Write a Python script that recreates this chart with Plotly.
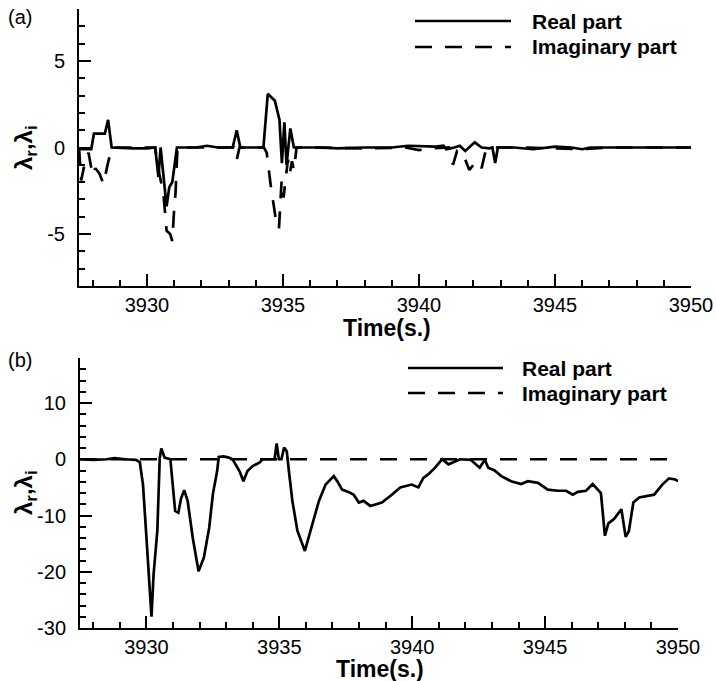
import plotly.graph_objects as go

W, H = 716, 681

# ---------------- Data: panel (a) ----------------
ta_real = [3927.5, 3927.7, 3927.95, 3928.05, 3928.45, 3928.57, 3928.7, 3929.5, 3930.0, 3930.3,
           3930.42, 3930.5, 3930.6, 3930.72, 3930.82, 3930.93, 3931.1, 3931.8, 3932.2, 3932.6,
           3933.15, 3933.3, 3933.43, 3934.28, 3934.44, 3934.7, 3934.87, 3934.96, 3935.05, 3935.13,
           3935.27, 3935.4, 3936.5, 3937.0, 3938.0, 3939.0, 3939.6, 3940.2, 3940.6, 3940.9,
           3941.0, 3941.3, 3941.5, 3941.7, 3942.05, 3942.3, 3942.6, 3942.7, 3942.8, 3942.9,
           3943.5, 3944.2, 3945.0, 3945.6, 3946.0, 3946.3, 3947.0, 3950.0]
a_real = [-0.1, -0.1, -0.1, 0.8, 0.8, 1.6, 0.0, -0.05, -0.05, 0.0,
          -1.7, 0.0, -1.7, -3.4, -2.3, -2.0, 0.0, 0.0, 0.1, 0.0,
          0.0, 1.0, 0.0, 0.0, 3.1, 2.7, 1.6, -0.9, 1.45, -1.0,
          1.1, 0.0, 0.0, -0.05, 0.0, 0.0, 0.1, 0.05, 0.05, 0.1,
          -0.1, 0.0, 0.1, -0.2, 0.3, 0.0, -0.05, 0.0, -0.9, 0.0,
          0.0, -0.1, 0.05, 0.0, -0.1, 0.0, 0.0, 0.0]

ta_imag = [3927.5, 3927.58, 3927.7, 3927.85, 3928.0, 3928.1, 3928.25, 3928.4, 3928.55, 3928.7,
           3930.3, 3930.45, 3930.6, 3930.72, 3930.85, 3930.93, 3931.0, 3931.05, 3931.12,
           3933.2, 3933.3, 3933.4,
           3934.3, 3934.4, 3934.55, 3934.65, 3934.75, 3934.85, 3934.9, 3934.95, 3935.02, 3935.1,
           3935.18, 3935.25, 3935.33, 3935.4, 3935.5,
           3936.0, 3938.0, 3939.5, 3940.0, 3940.5, 3941.1, 3941.25, 3941.4, 3941.6, 3941.85,
           3942.1, 3942.3, 3942.45, 3942.6, 3944.0, 3945.0, 3946.0, 3947.0, 3950.0]
a_imag = [0.0, -1.9, -1.0, -0.3, -1.6, -1.2, -1.5, -2.1, -1.0, 0.0,
          0.0, -1.5, -2.6, -4.8, -5.0, -5.4, -3.5, -2.6, 0.0,
          0.0, -0.7, 0.0,
          0.0, -0.3, -2.2, -3.4, -4.3, -4.7, -3.0, -1.9, -2.9, -1.8,
          -0.7, -1.5, -0.8, -1.3, 0.0,
          0.0, -0.05, 0.0, -0.15, -0.05, 0.0, -1.0, -0.2, -0.3, -1.3,
          -0.8, -1.2, -0.2, 0.0, 0.0, -0.05, -0.1, 0.0, 0.0]

# ---------------- Data: panel (b) ----------------
tb_real = [3927.5, 3928.0, 3928.5, 3928.8, 3929.2, 3929.6, 3929.75, 3929.87, 3930.0, 3930.1,
           3930.19, 3930.27, 3930.41, 3930.5, 3930.56, 3930.68, 3930.9, 3931.0, 3931.08, 3931.2,
           3931.3, 3931.42, 3931.55, 3931.74, 3931.96, 3932.16, 3932.36, 3932.5, 3932.66, 3932.72,
           3932.9, 3933.1, 3933.24, 3933.5, 3933.65, 3933.8, 3934.0, 3934.25, 3934.37, 3934.82,
           3934.9, 3934.98, 3935.08, 3935.18, 3935.28, 3935.36, 3935.49, 3935.68, 3935.8, 3935.96,
           3936.24, 3936.49, 3936.74, 3937.05, 3937.18, 3937.36, 3937.6, 3937.8, 3937.99, 3938.17,
           3938.42, 3938.86, 3939.23, 3939.55, 3939.98, 3940.23, 3940.42, 3940.6, 3940.86, 3941.13,
           3941.36, 3941.6, 3941.8, 3942.2, 3942.54, 3942.73, 3942.86, 3943.1, 3943.35, 3943.72,
           3944.1, 3944.35, 3944.73, 3945.1, 3945.48, 3945.79, 3946.04, 3946.23, 3946.54, 3946.79,
           3947.1, 3947.25, 3947.38, 3947.6, 3947.87, 3948.03, 3948.15, 3948.32, 3948.54, 3949.1,
           3949.41, 3949.66, 3949.9, 3950.0]
b_real = [0.0, -0.1, 0.0, 0.2, 0.0, -0.1, -0.5, -4.5, -13.9, -22.0,
          -28.0, -20.4, -12.7, 0.2, 1.9, 0.3, 0.0, -5.1, -9.2, -9.5,
          -7.0, -5.5, -7.4, -13.9, -19.9, -17.5, -12.2, -6.2, -2.1, 0.4,
          0.5, 0.3, 0.0, -2.1, -3.9, -2.1, -1.2, -0.6, 0.0, 0.0,
          2.8, 0.0, 0.0, 2.1, 1.4, -2.1, -7.4, -12.7, -14.2, -16.3,
          -11.6, -7.4, -4.5, -3.0, -3.9, -5.4, -5.8, -6.3, -7.7, -7.4,
          -8.3, -7.7, -6.3, -5.0, -4.5, -5.0, -3.3, -2.7, -1.5, 0.0,
          -0.9, -0.4, 0.0, -0.1, -1.5, -0.1, -1.5, -2.0, -3.0, -3.9,
          -4.4, -3.9, -4.2, -5.4, -5.6, -5.6, -6.3, -5.8, -5.6, -4.4,
          -6.0, -13.6, -11.4, -10.6, -8.9, -13.8, -12.8, -7.7, -6.8, -6.3,
          -4.5, -3.4, -3.6, -3.9]

tb_imag = [3927.5, 3950.0]
b_imag = [0.0, 0.0]

# tick labels
x_ticks = [3930, 3935, 3940, 3945, 3950]
x_ticktext = ["3930", "3935", "3940", "3945", "3950"]
ya_ticks = [-5, 0, 5]
ya_ticktext = ["-5", "0", "5"]
yb_ticks = [-30, -20, -10, 0, 10]
yb_ticktext = ["-30", "-20", "-10", "0", "10"]

legend_labels = ["Real part", "Imaginary part"]

FONT = "Liberation Sans, Arial, Helvetica, sans-serif"
DASH = "17px,13px"
LW = 2.7

fig = go.Figure()
fig.add_trace(go.Scatter(x=ta_real, y=a_real, mode="lines", name=legend_labels[0],
                         line=dict(color="black", width=LW), xaxis="x", yaxis="y"))
fig.add_trace(go.Scatter(x=ta_imag, y=a_imag, mode="lines", name=legend_labels[1],
                         line=dict(color="black", width=LW, dash=DASH), xaxis="x", yaxis="y"))
fig.add_trace(go.Scatter(x=tb_real, y=b_real, mode="lines", name=legend_labels[0],
                         line=dict(color="black", width=LW), xaxis="x2", yaxis="y2"))
fig.add_trace(go.Scatter(x=tb_imag, y=b_imag, mode="lines", name=legend_labels[1],
                         line=dict(color="black", width=LW, dash=DASH), xaxis="x2", yaxis="y2"))


def px(x):
    return x / W


def py(y):
    return 1 - y / H


common = dict(showline=True, linecolor="black", linewidth=2, mirror=False,
              ticks="inside", ticklen=12, tickwidth=2, tickcolor="black",
              showgrid=False, zeroline=False, automargin=False,
              tickfont=dict(family=FONT, size=20, color="black"))

minor_x = dict(ticks="inside", ticklen=6, tickwidth=1.5, tickcolor="black", dtick=1)

fig.update_layout(
    width=W, height=H, autosize=False, margin=dict(l=0, r=0, t=0, b=0, pad=0),
    paper_bgcolor="white", plot_bgcolor="white", showlegend=False,
    font=dict(family=FONT, color="black"),
    xaxis=dict(domain=[px(79), px(691)], anchor="y", range=[3927.5, 3950],
               tickvals=x_ticks, ticktext=x_ticktext, ticklabelstandoff=0,
               minor=minor_x, **common),
    yaxis=dict(domain=[py(286), py(9)], anchor="x", range=[-8, 8],
               tickvals=ya_ticks, ticktext=ya_ticktext, ticklabelstandoff=8,
               minor=dict(ticks="inside", ticklen=6, tickwidth=1.5, tickcolor="black", dtick=1), **common),
    xaxis2=dict(domain=[px(80), px(678)], anchor="y2", range=[3927.5, 3950],
                tickvals=x_ticks, ticktext=x_ticktext, ticklabelstandoff=0,
                minor=minor_x, **common),
    yaxis2=dict(domain=[py(628), py(358)], anchor="x2", range=[-30, 18],
                tickvals=yb_ticks, ticktext=yb_ticktext, ticklabelstandoff=8,
                minor=dict(ticks="inside", ticklen=6, tickwidth=1.5, tickcolor="black", dtick=2), **common),
)

annotations = []
shapes = []
# panel labels
for lab, (x, y) in [("(a)", (20, 17)), ("(b)", (20, 360))]:
    annotations.append(dict(text=lab, x=px(x), y=py(y), xref="paper", yref="paper",
                            showarrow=False, xanchor="center", yanchor="middle",
                            font=dict(family=FONT, size=20, color="black")))
# axis titles
for x, y in [(387, 328), (380, 669)]:
    annotations.append(dict(text="<b>Time(s.)</b>", x=px(x), y=py(y), xref="paper", yref="paper",
                            showarrow=False, xanchor="center", yanchor="middle",
                            font=dict(family=FONT, size=23, color="black")))
for y in [148, 493]:
    annotations.append(dict(text="<b>λ<sub>r</sub>,λ<sub>i</sub></b>", x=px(25), y=py(y),
                            xref="paper", yref="paper", textangle=-90,
                            showarrow=False, xanchor="center", yanchor="middle",
                            font=dict(family=FONT, size=24, color="black")))
# legends (drawn manually for long line samples)
for (x0, x1, yr, yi, xt) in [(415, 511, 21, 47, 530), (408, 503, 368, 393, 520)]:
    shapes.append(dict(type="line", xref="paper", yref="paper", x0=px(x0), x1=px(x1),
                       y0=py(yr), y1=py(yr), line=dict(color="black", width=LW)))
    shapes.append(dict(type="line", xref="paper", yref="paper", x0=px(x0), x1=px(x1),
                       y0=py(yi), y1=py(yi), line=dict(color="black", width=LW, dash=DASH)))
    for lab, yy in zip(legend_labels, [yr, yi]):
        annotations.append(dict(text="<b>" + lab + "</b>", x=px(xt), y=py(yy), xref="paper", yref="paper",
                                showarrow=False, xanchor="left", yanchor="middle",
                                font=dict(family=FONT, size=21, color="black")))

fig.update_layout(annotations=annotations, shapes=shapes)

post = ("document.body.style.margin='0';document.body.style.padding='0';"
        "document.documentElement.style.overflow='hidden';document.body.style.overflow='hidden';")
fig.write_html("out.html", config={"responsive": False}, post_script=post)
